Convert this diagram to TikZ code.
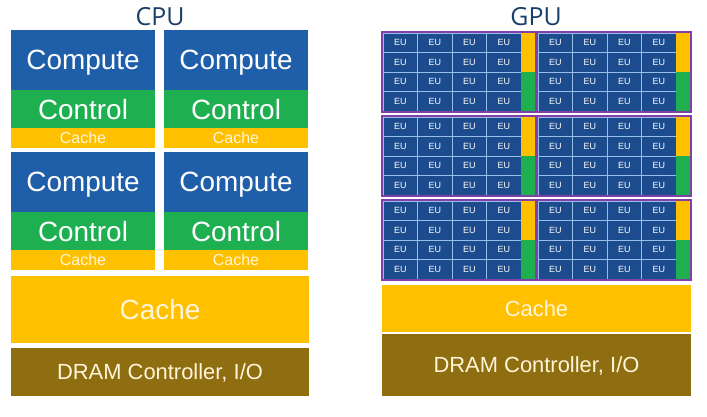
\documentclass[tikz,border=0pt]{standalone}
\usepackage{fontspec}
\newfontfamily\labelfont{Liberation Sans}
\newfontfamily\titlefont{Open Sans}
\usetikzlibrary{positioning}

\definecolor{computeblue}{RGB}{31,94,168}
\definecolor{eublue}{RGB}{28,76,142}
\definecolor{gridblue}{RGB}{150,190,232}
\definecolor{ctlgreen}{RGB}{30,176,80}
\definecolor{cacheyellow}{RGB}{255,192,0}
\definecolor{dramgold}{RGB}{143,110,18}
\definecolor{slicepurple}{RGB}{128,64,168}
\definecolor{titleblue}{RGB}{26,62,104}
\definecolor{cream}{RGB}{255,246,218}

\tikzset{
  unit/.style={anchor=north west, inner sep=0pt, outer sep=0pt, text depth=0pt,
               text=white, font=\labelfont\fontsize{28}{30}\selectfont},
  compute/.style={unit, fill=computeblue, minimum width=144bp, minimum height=60bp},
  control/.style={unit, fill=ctlgreen, minimum width=144bp, minimum height=38bp},
  lonecache/.style={unit, fill=cacheyellow, text=cream, minimum width=144bp,
               minimum height=20bp, font=\labelfont\fontsize{16}{18}\selectfont},
  bigcache/.style={unit, fill=cacheyellow, text=cream},
  dram/.style={unit, fill=dramgold, text=cream, font=\labelfont\fontsize{22}{24}\selectfont},
  eu/.style={unit, fill=eublue, draw=gridblue, line width=0.8bp,
             minimum width=34.5bp, minimum height=19.5bp,
             font=\labelfont\fontsize{9}{10}\selectfont},
  sidebar/.style={unit, minimum width=14bp, minimum height=39bp},
  slice/.style={unit, draw=slicepurple, line width=1.6bp,
                minimum width=154bp, minimum height=80bp},
  title/.style={text=titleblue, text depth=0pt, font=\titlefont\fontsize{25}{27}\selectfont}
}

\begin{document}
\begin{tikzpicture}[x=1bp, y=-1bp]
    \useasboundingbox (0,0) rectangle (707,416);

    % Titles
    \node[title] (cputitle) at (160,16) {CPU};
    \node[title] (gputitle) at (536,16) {GPU};

    % CPU cores
    \foreach \r in {0, 1} {
      \foreach \c in {0, 1} {
        \node[compute] (cmp\r\c) at ({11+153*\c}, {30+122*\r}) {Compute};
        \node[control] (ctl\r\c) at (cmp\r\c.south west) {Control};
        \node[lonecache] (lc\r\c) at (ctl\r\c.south west) {Cache};
      }
    }

    % CPU shared cache and DRAM
    \node[bigcache, minimum width=298bp, minimum height=67bp] (cpucache) at (11,276) {Cache};
    \node[dram, minimum width=298bp, minimum height=48bp] (cpudram) at (11,348) {DRAM Controller, I/O};

    % GPU slices
    \foreach \r in {0, 1, 2} {
      \foreach \c in {0, 1} {
        \pgfmathsetmacro\bx{382+155*\c}
        \pgfmathsetmacro\by{32+84*\r}
        \foreach \i in {0, ..., 3} {
          \foreach \j in {0, ..., 3} {
            \node[eu] (eu\r\c\i\j) at ({\bx+1+34.5*\j}, {\by+1+19.5*\i}) {EU};
          }
        }
        \node[sidebar, fill=cacheyellow] (bl\r\c) at ({\bx+139}, {\by+1}) {};
        \node[sidebar, fill=ctlgreen] (bg\r\c) at (bl\r\c.south west) {};
        \node[slice] (sl\r\c) at (\bx, \by) {};
      }
    }

    % GPU cache and DRAM
    \node[bigcache, minimum width=309bp, minimum height=47bp,
          font=\labelfont\fontsize{22}{24}\selectfont] (gpucache) at (382,285) {Cache};
    \node[dram, minimum width=309bp, minimum height=62bp] (gpudram) at (382,334) {DRAM Controller, I/O};
\end{tikzpicture}
\end{document}
